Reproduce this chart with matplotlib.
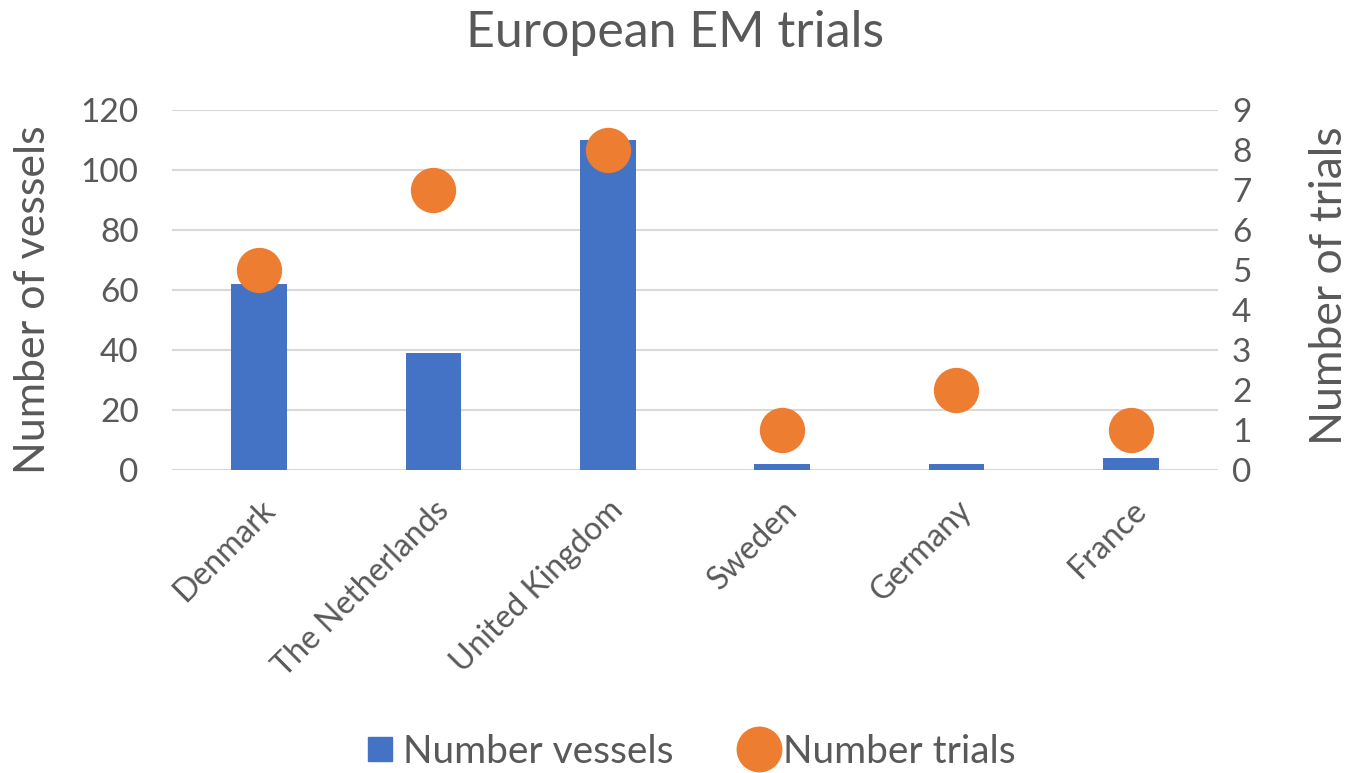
import matplotlib.pyplot as plt
import numpy as np
from matplotlib.lines import Line2D

plt.rcParams['font.family'] = ['Lato', 'DejaVu Sans']

countries = ['Denmark', 'The Netherlands', 'United Kingdom', 'Sweden', 'Germany', 'France']
vessels = [62, 39, 110, 2, 2, 4]
trials = [5, 7, 8, 1, 2, 1]

blue = '#4472C4'
orange = '#ED7D31'
grey = '#595959'

W, H = 1350, 773
fig = plt.figure(figsize=(W/100, H/100), dpi=100)
ax = fig.add_axes([172/W, 1-470/H, (1218-172)/W, 360/H])
ax2 = ax.twinx()

x = np.arange(len(countries))
ax.bar(x, vessels, width=0.32, color=blue, zorder=2)
ax2.scatter(x, trials, s=1000, color=orange, zorder=3, clip_on=False)

ax.set_xlim(-0.5, len(countries) - 0.5)
ax.set_ylim(0, 120)
ax2.set_ylim(0, 9)
ax.set_yticks(np.arange(0, 121, 20))
ax2.set_yticks(np.arange(0, 10, 1))
ax.yaxis.grid(True, color='#d9d9d9', linewidth=1.5, zorder=0)
ax.set_axisbelow(True)

for a in (ax, ax2):
    for s in a.spines.values():
        s.set_visible(False)
    a.tick_params(length=0, labelsize=24, colors=grey)

ax.set_xticks(x)
ax.set_xticklabels(countries, rotation=45, ha='right', rotation_mode='anchor', fontsize=23)
ax.tick_params(axis='x', pad=18)
ax.tick_params(axis='y', pad=24)
ax2.tick_params(axis='y', pad=10)

# axis titles placed in figure pixels
fig.text(33/W, 1 - 300/H, 'Number of vessels', fontsize=31, color=grey,
         rotation=90, ha='center', va='center')
fig.text(1329/W, 1 - 286/H, 'Number of trials', fontsize=32, color=grey,
         rotation=90, ha='center', va='center')

fig.text(0.5, 1 - 33/H, 'European EM trials', fontsize=36, color=grey, ha='center', va='center')

handles = [Line2D([], [], marker='s', linestyle='none', color=blue, markersize=17),
           Line2D([], [], marker='o', linestyle='none', color=orange, markersize=32)]
fig.legend(handles, ['Number vessels', 'Number trials'], loc='center', bbox_to_anchor=(0.508, 1 - 752/H),
           ncol=2, frameon=False, fontsize=28, labelcolor=grey, handletextpad=0.0,
           handlelength=1.2, columnspacing=1.6)

plt.savefig('out.png', dpi=100)
